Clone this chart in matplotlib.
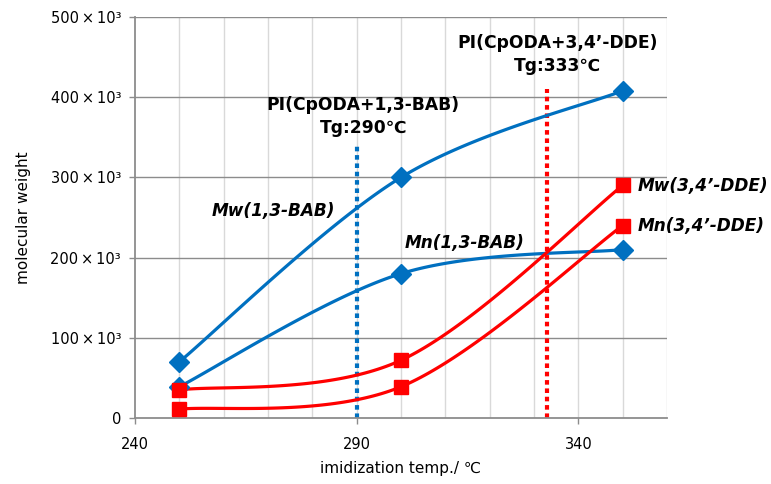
import numpy as np
import matplotlib
matplotlib.use("Agg")
import matplotlib.pyplot as plt

plt.rcParams['font.family'] = ['DejaVu Sans']

temps = [250, 300, 350]
mw_bab = [70, 300, 408]
mn_bab = [39, 180, 210]
mw_dde = [35, 72, 290]
mn_dde = [11, 39, 240]
tg_bab = 290
tg_dde = 333
tg_bab_top = 340
tg_dde_top = 410
yticks = [0, 100, 200, 300, 400, 500]
ytick_labels = ["0", "100\u2009×\u200910³", "200\u2009×\u200910³", "300\u2009×\u200910³",
                "400\u2009×\u200910³", "500\u2009×\u200910³"]
xticks = [240, 290, 340]

BLUE = "#0070C0"
RED = "#FF0000"


def smooth(xs, ys, n=60):
    P = np.column_stack([xs, ys]).astype(float)
    pts = np.vstack([P[0], P, P[-1]])
    out = []
    t = np.linspace(0, 1, n)[:, None]
    for i in range(1, len(pts) - 2):
        p0, p1, p2, p3 = pts[i - 1], pts[i], pts[i + 1], pts[i + 2]
        c1 = p1 + (p2 - p0) / 6.0
        c2 = p2 - (p3 - p1) / 6.0
        seg = ((1 - t) ** 3) * p1 + 3 * ((1 - t) ** 2) * t * c1 + 3 * (1 - t) * t ** 2 * c2 + t ** 3 * p2
        out.append(seg if i == 1 else seg[1:])
    arr = np.vstack(out)
    return arr[:, 0], arr[:, 1]


fig = plt.figure(figsize=(7.71, 4.84), dpi=100)
ax = fig.add_axes([135 / 771, 1 - 418 / 484, (667 - 135) / 771, (418 - 17) / 484])

ax.set_xlim(240, 360)
ax.set_ylim(0, 500)

# gridlines
for gx in range(250, 361, 10):
    ax.axvline(gx, color="#D9D9D9", lw=1.0, zorder=0)
for gy in yticks[1:]:
    ax.axhline(gy, color="#8C8C8C", lw=1.0, zorder=0.5)

for s in ["top", "right"]:
    ax.spines[s].set_visible(False)
for s in ["left", "bottom"]:
    ax.spines[s].set_color("#8C8C8C")
    ax.spines[s].set_linewidth(1.3)

ax.set_xticks(xticks)
ax.set_xticklabels([str(v) for v in xticks], fontsize=10.5)
ax.set_yticks(yticks)
ax.set_yticklabels(ytick_labels, fontsize=10.5)
ax.tick_params(axis="both", color="#8C8C8C", length=4, width=1.0, direction="out")
ax.tick_params(axis="x", pad=10)
ax.tick_params(axis="y", pad=6)

ax.set_xlabel("imidization temp./ ℃", fontsize=11, labelpad=6)
ax.set_ylabel("molecular weight", fontsize=11, labelpad=14)

# Tg lines
ax.plot([tg_bab, tg_bab], [0, tg_bab_top], color=BLUE, lw=3.0, dashes=(1.1, 0.9), zorder=2, clip_on=False)
ax.plot([tg_dde, tg_dde], [0, tg_dde_top], color=RED, lw=3.0, dashes=(1.1, 0.9), zorder=2, clip_on=False)

series = [(mw_bab, BLUE, "D"), (mn_bab, BLUE, "D"), (mw_dde, RED, "s"), (mn_dde, RED, "s")]
for ys, c, m in series:
    sx, sy = smooth(temps, ys)
    ax.plot(sx, sy, color=c, lw=2.3, zorder=3, solid_capstyle="round")
for ys, c, m in series:
    ax.plot(temps, ys, linestyle="none", marker=m, color=c, ms=10 if m == "D" else 9.5,
            zorder=5, clip_on=False)

ann = dict(fontsize=12.3, fontweight="bold", ha="center", va="center", linespacing=1.35)
ax.text(291.5, 376, "PI(CpODA+1,3-BAB)\nTg:290℃", **ann)
ax.text(335.3, 453, "PI(CpODA+3,4’-DDE)\nTg:333℃", **ann)

lab = dict(fontsize=12.2, fontweight="bold", fontstyle="italic", ha="left", va="center")
ax.text(257.3, 258, "Mw(1,3-BAB)", **lab)
ax.text(300.8, 218, "Mn(1,3-BAB)", **lab)
ax.text(353.3, 289, "Mw(3,4’-DDE)", **lab)
ax.text(353.3, 240, "Mn(3,4’-DDE)", **lab)

fig.savefig("out.png", dpi=100)
